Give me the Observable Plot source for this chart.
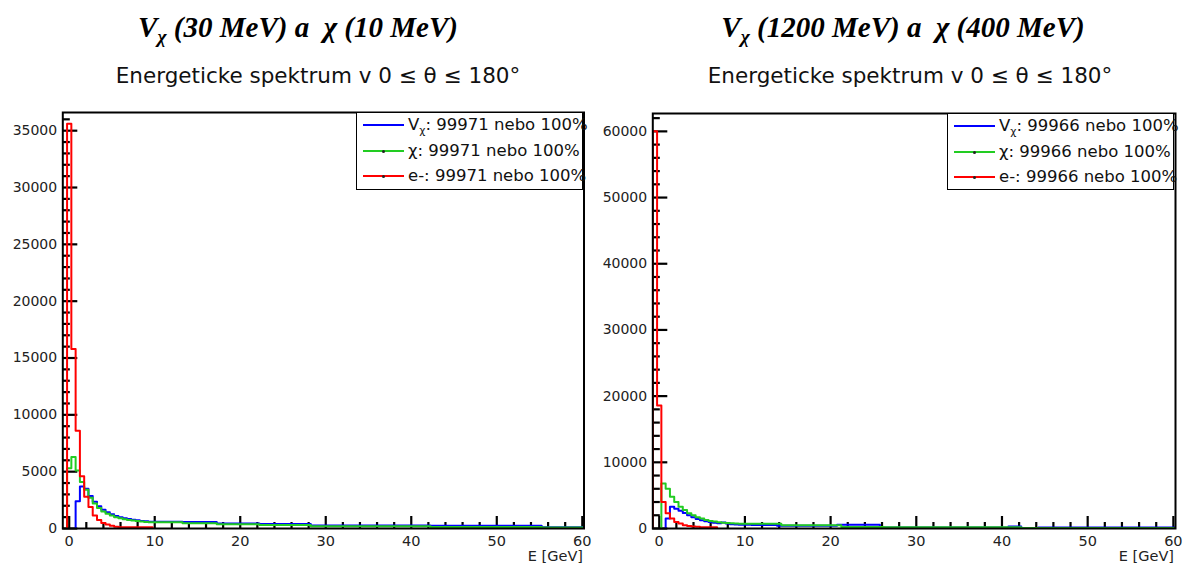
<!DOCTYPE html>
<html>
<head>
<meta charset="utf-8">
<script src="https://cdn.jsdelivr.net/npm/d3@7"></script>
<script src="https://cdn.jsdelivr.net/npm/@observablehq/plot@0.6"></script>
<style>
  body { margin: 0; background: #fff; }
  #wrap { position: relative; width: 1185px; height: 567px; overflow: hidden; background: #fff; }
  .title { position: absolute; font-family: "Liberation Serif", "Times New Roman", serif; font-weight: bold; font-style: italic; font-size: 29px; line-height: 29px; white-space: nowrap; transform: translateX(-50%); color: #000; }
  .title sub { font-size: 0.68em; vertical-align: -0.3em; line-height: 0; }
  .sub { position: absolute; font-family: "DejaVu Sans", sans-serif; font-size: 21.5px; line-height: 22px; white-space: nowrap; transform: translateX(-50%); color: #111; }
  .plot { position: absolute; top: 0; }
  .legend { position: absolute; box-sizing: border-box; border: 1.5px solid #000; background: #fff; }
  .entry { position: absolute; font-family: "DejaVu Sans", sans-serif; font-size: 16.5px; line-height: 16px; white-space: nowrap; color: #111; }
  .entry sub { font-size: 0.65em; vertical-align: -0.35em; line-height: 0; }
  .sw { position: absolute; height: 2px; }
  .dot { position: absolute; width: 3px; height: 3px; background: #222; border-radius: 50%; }
  .xlab { position: absolute; font-family: "DejaVu Sans", sans-serif; font-size: 14.5px; line-height: 15px; white-space: nowrap; color: #222; transform: translateX(-100%); }
</style>
</head>
<body>
<div id="wrap"></div>
<script>
// ---------------- data ----------------
const panelTitles = [["V", "χ", " (30 MeV) a  χ (10 MeV)"], ["V", "χ", " (1200 MeV) a  χ (400 MeV)"]];
const subtitle = "Energeticke spektrum v 0 ≤ θ ≤ 180°";
const xAxisLabel = "E [GeV]";
const seriesNames = ["V", "χ", "e-"];
const seriesColors = ["#0000ff", "#22cc22", "#ff0000"];
const eventCounts = ["99971", "99966"];
const percentText = "100%";

const xTickMajor = [0, 10, 20, 30, 40, 50, 60];
const xTickMinor = [2, 4, 6, 8, 12, 14, 16, 18, 22, 24, 26, 28, 32, 34, 36, 38, 42, 44, 46, 48, 52, 54, 56, 58];
const yTickMajorL = [0, 5000, 10000, 15000, 20000, 25000, 30000, 35000];
const yTickMinorL = [1000, 2000, 3000, 4000, 6000, 7000, 8000, 9000, 11000, 12000, 13000, 14000, 16000, 17000, 18000, 19000, 21000, 22000, 23000, 24000, 26000, 27000, 28000, 29000, 31000, 32000, 33000, 34000, 36000];
const yTickMajorR = [0, 10000, 20000, 30000, 40000, 50000, 60000];
const yTickMinorR = [2000, 4000, 6000, 8000, 12000, 14000, 16000, 18000, 22000, 24000, 26000, 28000, 32000, 34000, 36000, 38000, 42000, 44000, 46000, 48000, 52000, 54000, 56000, 58000, 62000];

// Left panel: Vχ (30 MeV), χ (10 MeV)
const leftBlueEdges  = [0.75, 1.25, 1.75, 2.25, 2.75, 3.25, 3.75, 4.25, 4.75, 5.25, 5.75, 6.25, 6.75, 7.25, 7.75, 8.25, 8.75, 9.25, 13.25, 17.25, 22.25, 28.25, 42.25, 55.25, 60.25];
const leftBlueCounts = [2400, 3700, 3500, 2850, 2350, 1950, 1650, 1420, 1260, 1110, 990, 900, 830, 770, 720, 670, 630, 590, 570, 440, 400, 270, 240, 120, 110];
const leftGreenEdges  = [-0.25, 0.25, 0.75, 1.25, 1.75, 2.25, 2.75, 3.25, 3.75, 4.25, 4.75, 5.25, 5.75, 6.25, 6.75, 7.25, 7.75, 8.25, 8.75, 9.25, 13.25, 17.25, 22.25, 28.25, 42.25, 55.25, 60.25];
const leftGreenCounts = [5300, 6300, 5100, 4100, 3400, 2700, 2200, 1800, 1500, 1300, 1150, 1000, 900, 820, 750, 700, 650, 610, 580, 540, 470, 380, 300, 190, 140, 90];
const leftRedEdges  = [-0.25, 0.25, 0.75, 1.25, 1.75, 2.25, 2.75, 3.25, 3.75, 4.25, 4.75, 5.25, 5.75, 9.75];
const leftRedCounts = [35600, 15800, 8600, 4600, 2800, 1900, 1150, 750, 480, 350, 250, 150, 100];

// Right panel: Vχ (1200 MeV), χ (400 MeV)
const rightBlueEdges  = [0.75, 1.25, 1.75, 2.25, 2.75, 3.25, 3.75, 4.25, 4.75, 5.25, 5.75, 6.25, 6.75, 7.25, 7.75, 8.25, 8.75, 9.25, 10.75, 13.75, 20.75, 25.75, 40.75, 42.25, 44.25, 60.25];
const rightBlueCounts = [1500, 3300, 3000, 2700, 2350, 2000, 1700, 1450, 1250, 1100, 980, 880, 800, 900, 760, 650, 620, 560, 520, 400, 560, 150, 300, 60, 160];
const rightGreenEdges  = [0.25, 0.75, 1.25, 1.75, 2.25, 2.75, 3.25, 3.75, 4.25, 4.75, 5.25, 5.75, 6.25, 6.75, 7.25, 7.75, 8.25, 8.75, 9.25, 14.25, 21.25, 26.25, 42.25, 60.25];
const rightGreenCounts = [6800, 6000, 4800, 4000, 3300, 2800, 2300, 2000, 1700, 1500, 1300, 1150, 1050, 950, 880, 820, 780, 740, 700, 480, 220, 200, 60];
const rightRedEdges  = [-0.75, -0.25, 0.25, 0.75, 1.25, 1.75, 2.25, 2.75, 3.25, 3.75, 4.25, 4.75, 6.75];
const rightRedCounts = [60000, 18600, 4000, 2300, 1500, 1000, 750, 500, 380, 300, 250, 180];

// ---------------- layout ----------------
const panels = [
  { left: 0, width: 592, mL: 62.3, mR: 8.5, mT: 112, mB: 39, xDomain: [-0.75, 60.2], yDomain: [0, 36600],
    yMajor: yTickMajorL, yMinor: yTickMinorL,
    series: [[leftBlueEdges, leftBlueCounts], [leftGreenEdges, leftGreenCounts], [leftRedEdges, leftRedCounts]],
    titleX: 298, subX: 318, legend: { x: 356, y: 112, w: 227, h: 78 }, count: eventCounts[0], xlabRight: 583 },
  { left: 590, width: 595, mL: 62.3, mR: 10, mT: 113, mB: 39, xDomain: [-0.75, 60.25], yDomain: [0, 62700],
    yMajor: yTickMajorR, yMinor: yTickMinorR,
    series: [[rightBlueEdges, rightBlueCounts], [rightGreenEdges, rightGreenCounts], [rightRedEdges, rightRedCounts]],
    titleX: 903, subX: 910, legend: { x: 947, y: 113, w: 227, h: 77 }, count: eventCounts[1], xlabRight: 1174 }
];

// tick lengths in pixels
const yMajorLen = 15, yMinorLen = 7.5, xMajorLen = 12, xMinorLen = 6;

function stepPoints(edges, counts) {
  const pts = [{ x: edges[0], y: 0 }];
  counts.forEach((c, i) => pts.push({ x: edges[i], y: c }));
  pts.push({ x: edges[edges.length - 1], y: 0 });
  return pts;
}

const wrap = document.getElementById("wrap");
const fmt = d3.format("d");

panels.forEach((p, pi) => {
  const fw = p.width - p.mL - p.mR;             // frame width in px
  const fh = 567 - p.mT - p.mB;                 // frame height in px
  const xPerPx = (p.xDomain[1] - p.xDomain[0]) / fw;
  const yPerPx = (p.yDomain[1] - p.yDomain[0]) / fh;
  const x0 = p.xDomain[0], y0 = p.yDomain[0];

  const yTicks = [
    ...p.yMajor.map(v => ({ v, a: x0, b: x0 + yMajorLen * xPerPx })),
    ...p.yMinor.map(v => ({ v, a: x0, b: x0 + yMinorLen * xPerPx }))
  ];
  const xTicks = [
    ...xTickMajor.map(v => ({ v, a: y0, b: y0 + xMajorLen * yPerPx })),
    ...xTickMinor.map(v => ({ v, a: y0, b: y0 + xMinorLen * yPerPx }))
  ];

  const marks = [
    // inward ticks (ROOT style)
    Plot.ruleY(yTicks, { y: "v", x1: "a", x2: "b", stroke: "#000", strokeWidth: 2.2 }),
    Plot.ruleX(xTicks, { x: "v", y1: "a", y2: "b", stroke: "#000", strokeWidth: 2.2 }),
    ...p.series.map(([e, c], si) =>
      Plot.line(stepPoints(e, c), { x: "x", y: "y", curve: "step-after", stroke: seriesColors[si], strokeWidth: 2, clip: true })
    ),
    Plot.frame({ stroke: "#000", strokeWidth: 2 }),
    Plot.axisY(p.yMajor, { tickSize: 0, tickPadding: 5.6, tickFormat: fmt, fontSize: 14, label: null }),
    Plot.axisX(xTickMajor, { tickSize: 0, tickPadding: 7, tickFormat: fmt, fontSize: 14.5, label: null })
  ];
  const svg = Plot.plot({
    width: p.width, height: 567,
    marginLeft: p.mL, marginRight: p.mR, marginTop: p.mT, marginBottom: p.mB,
    x: { domain: p.xDomain }, y: { domain: p.yDomain },
    style: { background: "transparent", fontFamily: "'DejaVu Sans', sans-serif", color: "#222", overflow: "visible" },
    marks
  });
  svg.classList.add("plot");
  svg.style.left = p.left + "px";
  wrap.appendChild(svg);

  // title
  const t = document.createElement("div");
  t.className = "title";
  t.style.left = p.titleX + "px"; t.style.top = "13px";
  const tt = panelTitles[pi];
  t.innerHTML = `${tt[0]}<sub>${tt[1]}</sub>${tt[2].replace(/  /g, " &nbsp;")}`;
  wrap.appendChild(t);

  // subtitle
  const s = document.createElement("div");
  s.className = "sub";
  s.style.left = p.subX + "px"; s.style.top = "65px";
  s.textContent = subtitle;
  wrap.appendChild(s);

  // legend box
  const L = p.legend;
  const box = document.createElement("div");
  box.className = "legend";
  Object.assign(box.style, { left: L.x + "px", top: L.y + "px", width: L.w + "px", height: L.h + "px" });
  wrap.appendChild(box);
  const rowY = [13, 39, 64];
  seriesNames.forEach((name, si) => {
    const sw = document.createElement("div");
    sw.className = "sw";
    Object.assign(sw.style, { left: (L.x + 7) + "px", top: (L.y + rowY[si] - 1) + "px", width: "41px", background: seriesColors[si] });
    wrap.appendChild(sw);
    if (si > 0) {
      const d = document.createElement("div");
      d.className = "dot";
      Object.assign(d.style, { left: (L.x + 26) + "px", top: (L.y + rowY[si] - 1.5) + "px" });
      wrap.appendChild(d);
    }
    const tx = document.createElement("div");
    tx.className = "entry";
    Object.assign(tx.style, { left: (L.x + 52) + "px", top: (L.y + rowY[si] - 8) + "px" });
    const label = si === 0 ? `${name}<sub>χ</sub>` : name;
    tx.innerHTML = `${label}: ${p.count} nebo ${percentText}`;
    wrap.appendChild(tx);
  });

  // x-axis title
  const xl = document.createElement("div");
  xl.className = "xlab";
  Object.assign(xl.style, { left: p.xlabRight + "px", top: "549px" });
  xl.textContent = xAxisLabel;
  wrap.appendChild(xl);
});
</script>
</body>
</html>
